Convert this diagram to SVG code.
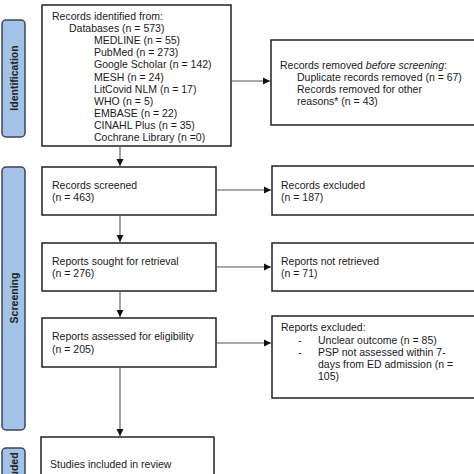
<svg xmlns="http://www.w3.org/2000/svg" width="474" height="474" viewBox="0 0 474 474">
<defs>
<marker id="arr" markerWidth="8" markerHeight="8" refX="7" refY="4" orient="auto" markerUnits="userSpaceOnUse">
<path d="M0,0.5 L7,4 L0,7.5 Z" fill="#111"/>
</marker>
<style>
.box{fill:#fff;stroke:#222;stroke-width:1.5}
.tab{fill:#a3c2e8;stroke:#3a4658;stroke-width:1.5}
.t{font-family:"Liberation Sans",Arial,sans-serif;font-size:10.5px;fill:#1a1a1a}
.tl{font-family:"Liberation Sans",Arial,sans-serif;font-size:10.5px;font-weight:bold;fill:#222;text-anchor:middle}
.c{stroke:#555;stroke-width:1.1;fill:none;marker-end:url(#arr)}
</style>
</defs>
<rect width="474" height="474" fill="#fff"/>
<g id="tab-identification">
<rect class="tab" x="2" y="20" width="23" height="117" rx="4"/>
<text class="tl" transform="translate(17.5,78) rotate(-90)">Identification</text>
</g>
<g id="tab-screening">
<rect class="tab" x="2" y="167" width="23" height="263" rx="4"/>
<text class="tl" transform="translate(17.5,298) rotate(-90)">Screening</text>
</g>
<g id="tab-included">
<rect class="tab" x="2" y="448" width="23" height="60" rx="4"/>
<text class="tl" transform="translate(17.5,474) rotate(-90)">Included</text>
</g>
<g id="identified">
<rect class="box" x="42" y="5" width="189" height="141"/>
<text class="t" x="52" y="20">Records identified from:</text>
<text class="t" x="69" y="32.1">Databases (n = 573)</text>
<text class="t" x="94" y="44.2">MEDLINE (n = 55)</text>
<text class="t" x="94" y="56.3">PubMed (n = 273)</text>
<text class="t" x="94" y="68.4">Google Scholar (n = 142)</text>
<text class="t" x="94" y="80.5">MESH (n = 24)</text>
<text class="t" x="94" y="92.6">LitCovid NLM (n = 17)</text>
<text class="t" x="94" y="104.7">WHO (n = 5)</text>
<text class="t" x="94" y="116.8">EMBASE (n = 22)</text>
<text class="t" x="94" y="128.9">CINAHL Plus (n = 35)</text>
<text class="t" x="94" y="141">Cochrane Library (n =0)</text>
</g>
<g id="removed">
<rect class="box" x="271" y="40" width="210" height="85"/>
<text class="t" x="280" y="69">Records removed <tspan font-style="italic">before screening</tspan>:</text>
<text class="t" x="297" y="81">Duplicate records removed (n = 67)</text>
<text class="t" x="297" y="93">Records removed for other</text>
<text class="t" x="297" y="105">reasons* (n = 43)</text>
</g>
<g id="screened">
<rect class="box" x="42" y="167" width="174" height="48"/>
<text class="t" x="52" y="189">Records screened</text>
<text class="t" x="52" y="201">(n = 463)</text>
</g>
<g id="excluded">
<rect class="box" x="272" y="166" width="210" height="49"/>
<text class="t" x="281" y="189">Records excluded</text>
<text class="t" x="281" y="201">(n = 187)</text>
</g>
<g id="sought">
<rect class="box" x="42" y="243" width="174" height="48"/>
<text class="t" x="52" y="265">Reports sought for retrieval</text>
<text class="t" x="52" y="277">(n = 276)</text>
</g>
<g id="notretrieved">
<rect class="box" x="272" y="243" width="210" height="48"/>
<text class="t" x="281" y="265">Reports not retrieved</text>
<text class="t" x="281" y="277">(n = 71)</text>
</g>
<g id="assessed">
<rect class="box" x="42" y="318" width="174" height="49"/>
<text class="t" x="52" y="340">Reports assessed for eligibility</text>
<text class="t" x="52" y="353">(n = 205)</text>
</g>
<g id="reportsexcluded">
<rect class="box" x="272" y="316" width="210" height="82"/>
<text class="t" x="281" y="331">Reports excluded:</text>
<text class="t" x="298" y="344">-</text>
<text class="t" x="318" y="344">Unclear outcome (n = 85)</text>
<text class="t" x="298" y="356">-</text>
<text class="t" x="318" y="356">PSP not assessed within 7-</text>
<text class="t" x="318" y="368">days from ED admission (n =</text>
<text class="t" x="318" y="380">105)</text>
</g>
<g id="included">
<rect class="box" x="41" y="437" width="173" height="60"/>
<text class="t" x="50" y="468">Studies included in review</text>
</g>
<g id="connectors">
<line class="c" x1="120" y1="146" x2="120" y2="166"/>
<line class="c" x1="120" y1="215" x2="120" y2="242"/>
<line class="c" x1="120" y1="291" x2="120" y2="317"/>
<line class="c" x1="120" y1="367" x2="120" y2="436"/>
<line class="c" x1="231" y1="81" x2="270" y2="81"/>
<line class="c" x1="216" y1="190" x2="271" y2="190"/>
<line class="c" x1="216" y1="267" x2="271" y2="267"/>
<line class="c" x1="216" y1="343" x2="271" y2="343"/>
</g>
</svg>
